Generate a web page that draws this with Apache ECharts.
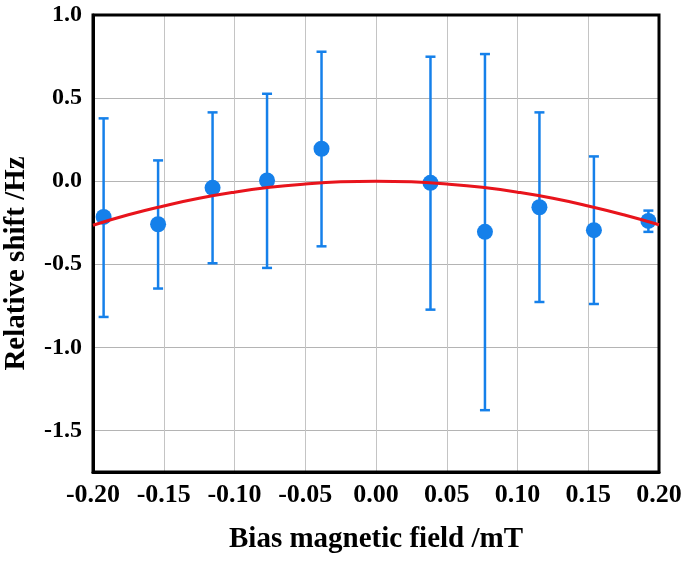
<!DOCTYPE html>
<html>
<head>
<meta charset="utf-8">
<script src="https://cdn.jsdelivr.net/npm/echarts@6/dist/echarts.min.js"></script>
<style>html,body{margin:0;padding:0;background:#fff}#c{width:685px;height:561px}</style>
</head>
<body>
<div id="c"></div>
<script>
// Data
var fieldX = [-0.1925, -0.154, -0.1155, -0.077, -0.0385, 0.0385, 0.077, 0.1155, 0.154, 0.1925];
var shiftY = [-0.215, -0.259, -0.040, 0.004, 0.195, -0.010, -0.305, -0.157, -0.295, -0.239];
var errLow = [-0.817, -0.646, -0.494, -0.522, -0.392, -0.773, -1.378, -0.727, -0.739, -0.305];
var errHigh = [0.378, 0.125, 0.414, 0.526, 0.779, 0.749, 0.765, 0.414, 0.149, -0.177];
var curveX = [-0.2, -0.175, -0.15, -0.125, -0.1, -0.075, -0.05, -0.025, 0, 0.025, 0.05, 0.075, 0.1, 0.125, 0.15, 0.175, 0.2];
var curveY = [-0.265, -0.202, -0.149, -0.103, -0.066, -0.037, -0.017, -0.004, 0, -0.004, -0.017, -0.037, -0.066, -0.103, -0.149, -0.202, -0.262];
var xTicks = { min: -0.2, max: 0.2, step: 0.05 };
var yTicks = { min: -1.75, max: 1.0, step: 0.25 };

var BLUE = '#1580ea';
var RED = '#e8141c';
var FONT = '"Liberation Serif", "Times New Roman", serif';

var points = fieldX.map(function (x, i) { return [x, shiftY[i]]; });
var bars = fieldX.map(function (x, i) { return [x, errLow[i], errHigh[i]]; });
var curve = curveX.map(function (x, i) { return [x, curveY[i]]; });

var chart = echarts.init(document.getElementById('c'));
chart.setOption({
  animation: false,
  backgroundColor: '#fff',
  grid: { z: 1, left: 93, right: 26, top: 15, bottom: 89, show: true, borderColor: '#000', borderWidth: 3, backgroundColor: 'transparent', containLabel: false, outerBoundsMode: 'none' },
  xAxis: {
    type: 'value', z: 0, min: xTicks.min, max: xTicks.max, interval: xTicks.step,
    name: 'Bias magnetic field /mT', nameLocation: 'middle', nameGap: 53,
    nameTextStyle: { fontFamily: FONT, fontWeight: 'bold', fontSize: 29, color: '#000' },
    axisLine: { show: true, onZero: false, lineStyle: { color: '#000', width: 3 } },
    axisTick: { show: false },
    axisLabel: {
      margin: 10, fontFamily: FONT, fontWeight: 'bold', fontSize: 26, color: '#000', hideOverlap: false,
      formatter: function (v) { var s = Math.abs(v) < 1e-9 ? '0.00' : v.toFixed(2); return s; }
    },
    splitLine: { show: true, lineStyle: { color: '#c4c4c4', width: 1 } }
  },
  yAxis: {
    type: 'value', z: 0, min: yTicks.min, max: yTicks.max, interval: yTicks.step,
    name: 'Relative shift /Hz', nameLocation: 'middle', nameGap: 62,
    nameTextStyle: { fontFamily: FONT, fontWeight: 'bold', fontSize: 29, color: '#000', padding: [0, 40, 0, 0] },
    axisLine: { show: true, onZero: false, lineStyle: { color: '#000', width: 3 } },
    axisTick: { show: false },
    axisLabel: {
      margin: 11, fontFamily: FONT, fontWeight: 'bold', fontSize: 24, color: '#000',
      formatter: function (v) {
        if (Math.abs(v * 2 - Math.round(v * 2)) > 1e-6) return '';
        return Math.abs(v) < 1e-9 ? '0.0' : v.toFixed(1);
      }
    },
    splitLine: { show: true, lineStyle: { color: ['rgba(0,0,0,0)', '#b4b4b4'], width: 1 } }
  },
  series: [
    {
      type: 'custom', z: 2,
      data: bars,
      renderItem: function (params, api) {
        var x = api.value(0), lo = api.value(1), hi = api.value(2);
        var pLo = api.coord([x, lo]), pHi = api.coord([x, hi]);
        var w = 5;
        var st = { stroke: BLUE, lineWidth: 2.5 };
        return {
          type: 'group',
          children: [
            { type: 'line', shape: { x1: pLo[0], y1: pLo[1], x2: pHi[0], y2: pHi[1] }, style: st },
            { type: 'line', shape: { x1: pLo[0] - w, y1: pLo[1], x2: pLo[0] + w, y2: pLo[1] }, style: st },
            { type: 'line', shape: { x1: pHi[0] - w, y1: pHi[1], x2: pHi[0] + w, y2: pHi[1] }, style: st }
          ]
        };
      },
      encode: { x: 0, y: [1, 2] }
    },
    {
      type: 'scatter', z: 3, data: points, symbol: 'circle', symbolSize: 16,
      itemStyle: { color: BLUE, opacity: 1 }
    },
    {
      type: 'line', z: 4, data: curve, smooth: true, showSymbol: false, symbol: 'none',
      lineStyle: { color: RED, width: 3 }
    }
  ]
});
</script>
</body>
</html>
